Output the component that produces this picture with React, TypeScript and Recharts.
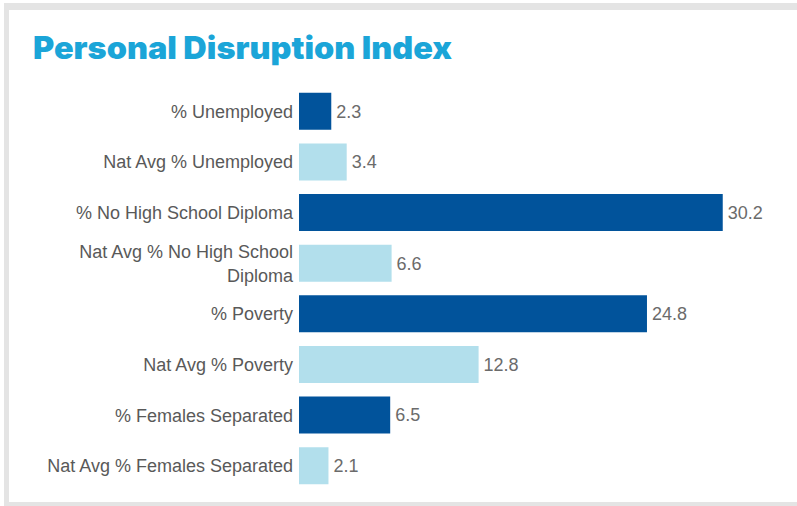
import React from "react";
import { BarChart, Bar, XAxis, YAxis, Cell, LabelList } from "recharts";

const categories = [
  "% Unemployed",
  "Nat Avg % Unemployed",
  "% No High School Diploma",
  "Nat Avg % No High School Diploma",
  "% Poverty",
  "Nat Avg % Poverty",
  "% Females Separated",
  "Nat Avg % Females Separated",
];
const values = [2.3, 3.4, 30.2, 6.6, 24.8, 12.8, 6.5, 2.1];
const isNatAvg = [false, true, false, true, false, true, false, true];

const title = "Personal Disruption Index";
const DARK = "#01539b";
const LIGHT = "#b2dfec";
const LABEL_FONT = "'Liberation Sans', Arial, sans-serif";

const data = categories.map((c, i) => ({ name: c, value: values[i], nat: isNatAvg[i] }));

function wrapLabel(s: string, maxChars: number): string[] {
  const words = s.split(" ");
  const lines: string[] = [];
  let cur = "";
  for (const w of words) {
    const next = cur ? cur + " " + w : w;
    if (next.length > maxChars && cur) {
      lines.push(cur);
      cur = w;
    } else cur = next;
  }
  if (cur) lines.push(cur);
  return lines;
}

const Tick = (props: any) => {
  const { x, y, payload } = props;
  const lines = wrapLabel(String(payload.value), 27);
  const lh = 24;
  const start = -((lines.length - 1) * lh) / 2;
  return (
    <text
      x={x}
      y={y}
      textAnchor="end"
      fill="#595959"
      fontSize={18}
      fontFamily={LABEL_FONT}
    >
      {lines.map((l, i) => (
        <tspan key={i} x={x} dy={i === 0 ? start + 6.5 : lh}>
          {l}
        </tspan>
      ))}
    </text>
  );
};

export default function App() {
  return (
    <div style={{ position: "absolute", left: 0, top: 0, width: 797, height: 506, background: "#fff", overflow: "hidden" }}>
      <div
        style={{
          position: "absolute",
          left: 4,
          top: 3,
          width: 797,
          height: 503,
          boxSizing: "border-box",
          borderLeft: "5px solid #e4e4e4",
          borderTop: "7px solid #e4e4e4",
          borderRight: "2px solid #e4e4e4",
          borderBottom: "4px solid #e4e4e4",
        }}
      />
      <svg style={{ position: "absolute", left: 0, top: 0 }} width={797} height={80}>
        <text
          x={33}
          y={59}
          fill="#1ba5d8"
          fontSize={31}
          fontWeight={900}
          fontFamily="Inter, Roboto, 'DejaVu Sans', sans-serif"
          textLength={419}
          lengthAdjust="spacingAndGlyphs"
        >
          {title}
        </text>
      </svg>
      <div style={{ position: "absolute", left: 0, top: 0 }}>
        <BarChart
          width={797}
          height={506}
          layout="vertical"
          data={data}
          margin={{ top: 86, right: 49, bottom: 15, left: 0 }}
          barCategoryGap="13.5%"
        >
          <XAxis type="number" domain={[0, 32]} hide />
          <YAxis
            type="category"
            dataKey="name"
            width={299}
            axisLine={false}
            tickLine={false}
            tickSize={4}
            tickMargin={2}
            interval={0}
            tick={<Tick />}
          />
          <Bar dataKey="value" isAnimationActive={false}>
            {data.map((d, i) => (
              <Cell key={i} fill={d.nat ? LIGHT : DARK} />
            ))}
            <LabelList
              dataKey="value"
              position="right"
              offset={5}
              fill="#6b6b6b"
              fontSize={18}
              fontFamily={LABEL_FONT}
            />
          </Bar>
        </BarChart>
      </div>
    </div>
  );
}
